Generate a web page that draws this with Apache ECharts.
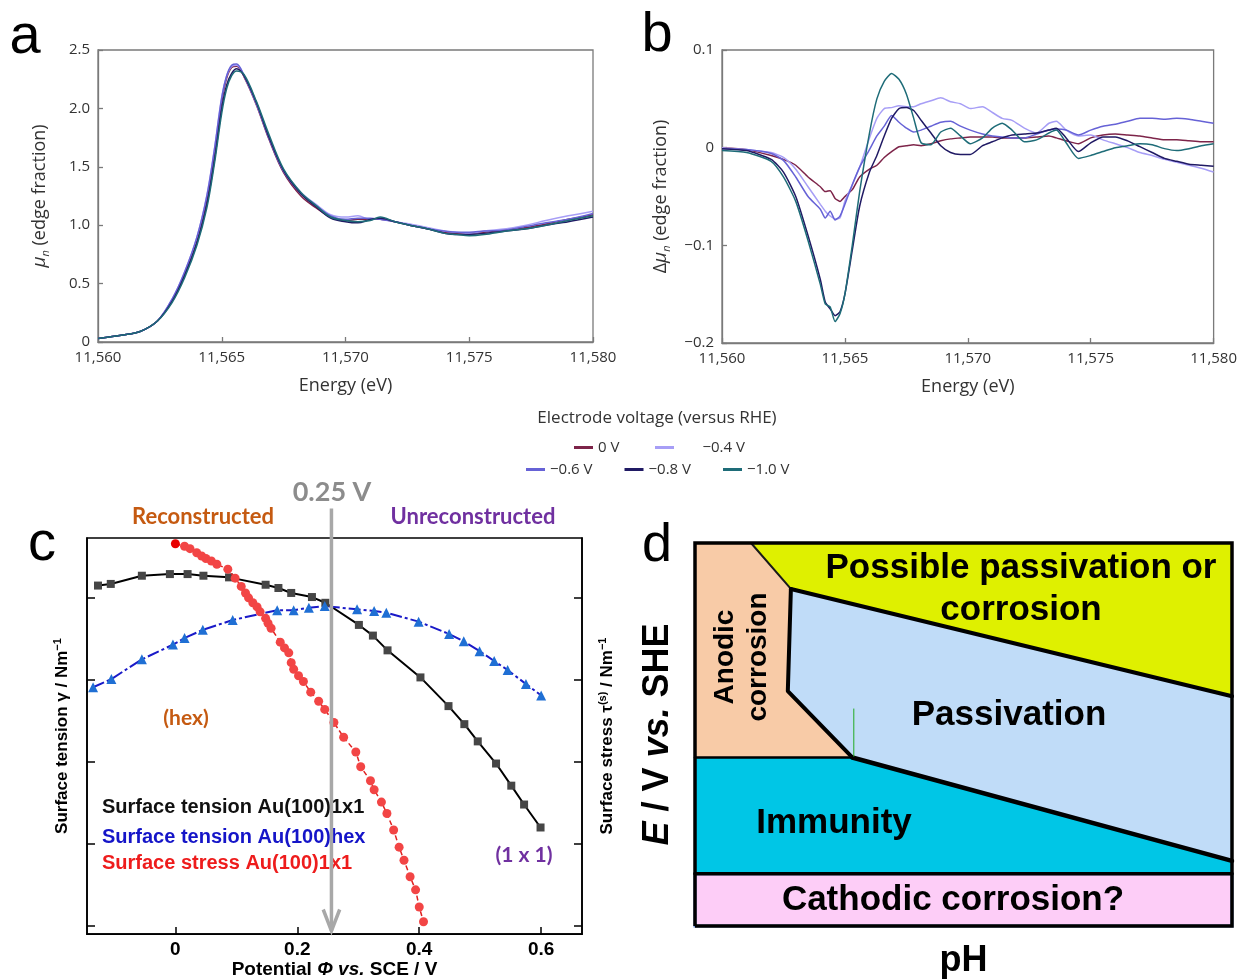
<!DOCTYPE html>
<html>
<head>
<meta charset="utf-8">
<script src="https://cdn.jsdelivr.net/npm/echarts@6/dist/echarts.min.js"></script>
<style>
html,body{margin:0;padding:0;background:#ffffff;}
#chart{width:1240px;height:980px;}
</style>
</head>
<body>
<div id="chart"></div>
<script>
// ---------------- Panel a / b : XANES spectra ----------------
const voltageNames = ['0 V', '−0.4 V', '−0.6 V', '−0.8 V', '−1.0 V'];

const energyA = [11560, 11561, 11561.7, 11562.4, 11563, 11563.5, 11564, 11564.4, 11564.7, 11565, 11565.2, 11565.4, 11565.6, 11565.9, 11566.4, 11566.9, 11567.5, 11568.2, 11568.8, 11569.4, 11570, 11570.5, 11571, 11571.4, 11572, 11572.6, 11573.3, 11574, 11574.5, 11575, 11575.6, 11576.5, 11577.3, 11578.1, 11579, 11580];
const muN_0V  = [0.03,0.06,0.09,0.18,0.36,0.58,0.87,1.22,1.60,2.06,2.26,2.35,2.36,2.27,2.03,1.74,1.45,1.25,1.15,1.07,1.04,1.05,1.05,1.05,1.03,1.00,0.97,0.94,0.93,0.93,0.94,0.96,0.98,1.01,1.05,1.09];
const muN_04V = [0.03,0.06,0.09,0.18,0.37,0.60,0.90,1.26,1.65,2.10,2.28,2.36,2.37,2.28,2.04,1.76,1.47,1.28,1.18,1.09,1.07,1.08,1.05,1.06,1.03,1.01,0.98,0.95,0.94,0.93,0.95,0.97,1.00,1.04,1.08,1.12];
const muN_06V = [0.03,0.06,0.09,0.18,0.37,0.60,0.90,1.25,1.64,2.09,2.28,2.37,2.38,2.28,2.04,1.75,1.46,1.27,1.17,1.08,1.05,1.06,1.06,1.05,1.03,1.00,0.97,0.95,0.94,0.94,0.95,0.96,0.99,1.02,1.05,1.10];
const muN_08V = [0.03,0.06,0.09,0.18,0.35,0.57,0.85,1.18,1.55,2.00,2.20,2.30,2.34,2.28,2.05,1.76,1.47,1.27,1.16,1.06,1.03,1.02,1.05,1.06,1.03,1.00,0.97,0.93,0.92,0.92,0.93,0.95,0.97,1.00,1.03,1.07];
const muN_10V = [0.03,0.06,0.09,0.18,0.34,0.55,0.83,1.15,1.52,1.96,2.17,2.28,2.32,2.29,2.06,1.78,1.48,1.28,1.17,1.07,1.04,1.03,1.04,1.07,1.03,1.00,0.97,0.93,0.92,0.91,0.92,0.95,0.97,1.00,1.04,1.08];

const energyB = [11560, 11561, 11562, 11562.5, 11563, 11563.5, 11564, 11564.2, 11564.4, 11564.6, 11564.8, 11565, 11565.3, 11565.6, 11566, 11566.3, 11566.6, 11566.9, 11567.2, 11567.5, 11567.8, 11568.1, 11568.5, 11568.9, 11569.3, 11569.7, 11570.1, 11570.6, 11571, 11571.4, 11571.8, 11572.3, 11572.8, 11573.3, 11573.6, 11574, 11574.5, 11575, 11575.5, 11576, 11576.5, 11577, 11577.5, 11578, 11578.5, 11579, 11579.5, 11580];
const dMu_0V  = [0.000,-0.002,-0.008,-0.012,-0.018,-0.030,-0.040,-0.045,-0.044,-0.052,-0.055,-0.050,-0.043,-0.030,-0.022,-0.018,-0.010,-0.004,0.001,0.002,0.003,0.002,0.004,0.007,0.009,0.010,0.011,0.011,0.011,0.010,0.010,0.010,0.011,0.012,0.010,0.007,0.004,0.010,0.013,0.014,0.013,0.012,0.010,0.008,0.008,0.007,0.006,0.006];
const dMu_04V = [0.000,-0.002,-0.005,-0.010,-0.022,-0.040,-0.058,-0.065,-0.070,-0.073,-0.072,-0.055,-0.038,-0.020,0.010,0.030,0.040,0.041,0.043,0.042,0.042,0.045,0.048,0.051,0.047,0.045,0.040,0.042,0.036,0.030,0.028,0.020,0.015,0.025,0.027,0.018,0.012,0.013,0.008,0.004,0.000,-0.005,-0.008,-0.012,-0.015,-0.018,-0.021,-0.025];
const dMu_06V = [-0.001,-0.002,-0.006,-0.013,-0.030,-0.050,-0.063,-0.072,-0.065,-0.074,-0.070,-0.058,-0.038,-0.020,-0.002,0.012,0.022,0.033,0.026,0.020,0.016,0.018,0.022,0.026,0.027,0.022,0.018,0.014,0.012,0.011,0.010,0.010,0.014,0.018,0.019,0.018,0.013,0.018,0.022,0.024,0.027,0.030,0.030,0.029,0.030,0.029,0.027,0.025];
const dMu_08V = [-0.001,-0.003,-0.012,-0.025,-0.050,-0.090,-0.135,-0.158,-0.165,-0.172,-0.168,-0.150,-0.105,-0.060,-0.025,-0.008,0.012,0.030,0.040,0.041,0.038,0.028,0.015,0.002,-0.005,-0.007,-0.007,0.002,0.006,0.010,0.013,0.014,0.015,0.018,0.020,0.010,-0.004,0.005,0.011,0.011,0.007,0.001,-0.005,-0.011,-0.014,-0.017,-0.018,-0.019];
const dMu_10V = [-0.003,-0.005,-0.014,-0.030,-0.055,-0.095,-0.140,-0.160,-0.163,-0.178,-0.170,-0.150,-0.100,-0.045,0.015,0.050,0.068,0.076,0.070,0.055,0.030,0.005,0.003,0.016,0.020,0.012,0.004,0.010,0.020,0.025,0.018,0.006,0.008,0.015,0.018,0.005,-0.011,-0.008,-0.004,0.000,0.002,0.004,0.003,-0.001,-0.003,-0.001,0.002,0.004];

// ---------------- Panel c : surface tension / stress ----------------
const potential1x1 = [-0.127,-0.106,-0.055,-0.009,0.020,0.046,0.088,0.148,0.169,0.190,0.224,0.246,0.301,0.324,0.348,0.402,0.448,0.474,0.496,0.526,0.551,0.572,0.599];
const tension1x1   = [4.15,4.17,4.27,4.29,4.29,4.27,4.25,4.16,4.12,4.06,4.01,3.94,3.67,3.54,3.36,3.03,2.68,2.46,2.25,1.98,1.71,1.48,1.20];
const potentialHex = [-0.135,-0.105,-0.055,-0.004,0.015,0.045,0.094,0.167,0.194,0.219,0.245,0.298,0.326,0.346,0.399,0.449,0.473,0.499,0.523,0.545,0.575,0.600];
const tensionHex   = [2.91,3.01,3.25,3.43,3.51,3.61,3.73,3.85,3.85,3.88,3.90,3.86,3.84,3.82,3.71,3.56,3.47,3.35,3.23,3.12,2.95,2.81];
const potentialStress = [0,0.015,0.024,0.035,0.043,0.050,0.059,0.068,0.086,0.098,0.108,0.115,0.120,0.127,0.134,0.139,0.148,0.152,0.157,0.172,0.179,0.186,0.190,0.194,0.202,0.210,0.222,0.235,0.245,0.260,0.276,0.296,0.304,0.320,0.326,0.338,0.347,0.358,0.367,0.375,0.385,0.394,0.400,0.407];
const stress1x1       = [4.66,4.63,4.60,4.55,4.51,4.48,4.45,4.41,4.35,4.24,4.14,4.06,4.00,3.94,3.89,3.83,3.75,3.69,3.63,3.46,3.39,3.33,3.21,3.13,3.05,2.98,2.85,2.74,2.64,2.48,2.30,2.12,1.94,1.77,1.66,1.51,1.37,1.17,0.96,0.80,0.60,0.44,0.23,0.05];
const potentialTicks = [0, 0.2, 0.4, 0.6];
const tensionTicks = [0, 1, 2, 3, 4];
const transitionPotential = 0.256;   // "0.25 V" marker
const transitionTop = 5.09;
const transitionTip = -0.06;

// ---------------- Panel d : Pourbaix-type diagram ----------------
const regionAnodic      = [[0,2],[1.46,2],[2.5,1.64],[2.42,0.84],[4.1,0.32],[0,0.32]];
const regionPossible    = [[1.46,2],[14,2],[14,0.80],[2.5,1.64]];
const regionPassivation = [[2.5,1.64],[14,0.80],[14,-0.49],[4.1,0.32],[2.42,0.84]];
const regionImmunity    = [[0,0.32],[4.1,0.32],[14,-0.49],[14,-0.59],[0,-0.59]];
const regionCathodic    = [[0,-0.59],[14,-0.59],[14,-1],[0,-1]];
const boundaryAnodicTop   = [[1.46,2],[2.5,1.64]];
const boundaryPassTop     = [[2.5,1.64],[14,0.80]];
const boundaryPassLeft    = [[2.5,1.64],[2.42,0.84],[4.1,0.32]];
const boundaryImmLeft     = [[0,0.32],[4.1,0.32]];
const boundaryImmRight    = [[4.1,0.32],[14,-0.49]];
const boundaryCathodic    = [[0,-0.59],[14,-0.59]];
const strayMark           = [[4.14,0.70],[4.14,0.33]];
const frameD              = [[0,-1],[14,-1],[14,2],[0,2],[0,-1]];

// ---------------- styles ----------------
const voltageColors = ['#7d2449', '#a79ef6', '#6662d6', '#201a64', '#1e6c78'];
const regionList = [regionAnodic, regionPossible, regionPassivation, regionImmunity, regionCathodic];
const regionColors = ['#f8cba7', '#dff000', '#c0dcf8', '#00c6e6', '#fdcdf7'];
const sansAB = '"Open Sans", "Liberation Sans", sans-serif';
const arialB = '"Liberation Sans", Arial, sans-serif';
const lato = 'Lato, "Liberation Sans", sans-serif';

const zip = (xs, ys) => xs.map((x, i) => [x, ys[i]]);
const fmtEnergy = v => String(v).replace(/\B(?=(\d{3})+(?!\d))/g, ',');

const seriesA = [muN_0V, muN_04V, muN_06V, muN_08V, muN_10V];
const seriesB = [dMu_0V, dMu_04V, dMu_06V, dMu_08V, dMu_10V];

const chart = echarts.init(document.getElementById('chart'), null, {renderer: 'canvas'});

const abAxisCommon = (gi) => ({
  gridIndex: gi, type: 'value', min: 11560, max: 11580, interval: 5,
  axisLine: {show: true, onZero: false, lineStyle: {color: '#7a7a7a', width: 1.3}},
  axisTick: {show: true, inside: true, length: 5, lineStyle: {color: '#7a7a7a', width: 1.3}},
  axisLabel: {formatter: fmtEnergy, color: '#333', fontSize: 15, fontFamily: sansAB, margin: 8},
  splitLine: {show: false},
  name: 'Energy (eV)', nameLocation: 'middle', nameGap: 35,
  nameTextStyle: {fontSize: 18, color: '#333', fontFamily: sansAB}
});

const series = [];
voltageNames.forEach((n, i) => {
  series.push({
    type: 'line', name: n, xAxisIndex: 0, yAxisIndex: 0,
    data: zip(energyA, seriesA[i]), symbol: 'none', smooth: 0.35,
    lineStyle: {color: voltageColors[i], width: 1.5}, itemStyle: {color: voltageColors[i]}
  });
});
voltageNames.forEach((n, i) => {
  series.push({
    type: 'line', name: n, xAxisIndex: 1, yAxisIndex: 1,
    data: zip(energyB, seriesB[i]), symbol: 'none', smooth: 0.2,
    lineStyle: {color: voltageColors[i], width: 1.5}, itemStyle: {color: voltageColors[i]}
  });
});

// panel c
series.push({
  type: 'line', name: 'Surface tension Au(100)1x1', xAxisIndex: 2, yAxisIndex: 2,
  data: zip(potential1x1, tension1x1), symbol: 'rect', symbolSize: 8,
  itemStyle: {color: '#464646'}, lineStyle: {color: '#000', width: 2}, z: 3
});
series.push({
  type: 'line', name: 'Surface tension Au(100)hex', xAxisIndex: 2, yAxisIndex: 2,
  data: zip(potentialHex, tensionHex), symbol: 'triangle', symbolSize: 10,
  itemStyle: {color: '#1f6fd4'}, lineStyle: {color: '#1a1ac8', width: 2, type: [12, 3, 3, 3]}, z: 3
});
series.push({
  type: 'line', name: 'Surface stress Au(100)1x1', xAxisIndex: 2, yAxisIndex: 2,
  data: zip(potentialStress, stress1x1).map((p, i) => i === 0 ? {value: p, itemStyle: {color: '#e80000'}} : p),
  symbol: 'circle', symbolSize: 9,
  itemStyle: {color: '#f24545'}, lineStyle: {color: '#e02020', width: 1.5, type: [5, 3]}, z: 4
});
series.push({
  type: 'line', xAxisIndex: 2, yAxisIndex: 2, clip: false, silent: true,
  data: [[transitionPotential, transitionTop], [transitionPotential, transitionTip]],
  symbol: 'none', lineStyle: {color: '#a8a8a8', width: 3.5}, z: 10
});
series.push({
  type: 'line', xAxisIndex: 2, yAxisIndex: 2, clip: false, silent: true,
  data: [[transitionPotential - 0.0135, transitionTip + 0.26], [transitionPotential, transitionTip], [transitionPotential + 0.0135, transitionTip + 0.26]],
  symbol: 'none', lineStyle: {color: '#a8a8a8', width: 3.5, join: 'miter'}, z: 10
});

// panel d
series.push({
  type: 'custom', coordinateSystem: 'cartesian2d', xAxisIndex: 3, yAxisIndex: 4, clip: false, silent: true,
  data: regionList.map(r => r[0]),
  renderItem: (params, api) => {
    const poly = regionList[params.dataIndex];
    return {type: 'polygon', shape: {points: poly.map(p => api.coord(p))},
      style: {fill: regionColors[params.dataIndex], stroke: params.dataIndex === 4 ? '#6f94dc' : null, lineWidth: params.dataIndex === 4 ? 3 : 0}};
  }, z: 1
});
const boundary = (data, width, color) => ({
  type: 'line', xAxisIndex: 3, yAxisIndex: 4, data, symbol: 'none', clip: false, silent: true,
  lineStyle: {color: color || '#000', width, cap: 'round', join: 'round'}, z: 5
});
series.push(boundary(boundaryAnodicTop, 2, '#1a1a1a'));
series.push(boundary(boundaryPassTop, 4));
series.push(boundary(boundaryPassLeft, 4));
series.push(boundary(boundaryImmLeft, 2.5));
series.push(boundary(boundaryImmRight, 4.5));
series.push(boundary(boundaryCathodic, 3.5));
series.push(boundary(strayMark, 1, '#22aa22'));
series.push(Object.assign(boundary(frameD, 3.5), {lineStyle: {color: '#000', width: 3.5, join: 'miter'}}));

const txt = (text, x, y, font, fill, extra) => Object.assign({
  type: 'text', x, y, silent: true, z: 100,
  style: {text, font, fill, textAlign: 'center', textVerticalAlign: 'middle', align: 'center', verticalAlign: 'middle'}
}, extra || {});
const ltxt = (text, x, y, font, fill) => ({
  type: 'text', x, y, silent: true, z: 5,
  style: {text, font, fill, textAlign: 'left', align: 'left', textVerticalAlign: 'middle', verticalAlign: 'middle'}
});

const option = {
  backgroundColor: '#ffffff',
  animation: false,
  grid: [
    {left: 98, top: 50, width: 495, height: 292, show: true, borderColor: '#7a7a7a', borderWidth: 1.3, backgroundColor: 'transparent'},
    {left: 722, top: 50, width: 493, height: 293, show: true, borderColor: '#7a7a7a', borderWidth: 1.3, backgroundColor: 'transparent'},
    {left: 87, top: 538, width: 495, height: 398, show: true, borderColor: '#000', borderWidth: 1.6, backgroundColor: 'transparent'},
    {left: 695, top: 543, width: 537, height: 385, show: false}
  ],
  legend: [
    {data: ['0 V'], left: 569, top: 435, icon: 'rect', itemWidth: 19, itemHeight: 3, selectedMode: false,
     textStyle: {fontSize: 15, color: '#333', fontFamily: sansAB}},
    {data: ['−0.4 V'], left: 650, top: 435, icon: 'rect', itemWidth: 19, itemHeight: 3, selectedMode: false,
     formatter: n => '      ' + n, textStyle: {fontSize: 15, color: '#333', fontFamily: sansAB}},
    {data: ['−0.6 V', '−0.8 V', '−1.0 V'], left: 521, top: 457, icon: 'rect', itemWidth: 19, itemHeight: 3, itemGap: 32, selectedMode: false,
     textStyle: {fontSize: 15, color: '#333', fontFamily: sansAB}}
  ],
  xAxis: [
    abAxisCommon(0),
    abAxisCommon(1),
    {gridIndex: 2, type: 'value', min: -0.145, max: 0.667,
     axisLine: {show: true, onZero: false, lineStyle: {color: '#000', width: 1.6}},
     axisTick: {show: true, inside: true, length: 7, customValues: potentialTicks, lineStyle: {color: '#000', width: 1.5}},
     axisLabel: {customValues: potentialTicks, formatter: v => String(v), color: '#000', fontSize: 19, fontWeight: 'bold', fontFamily: arialB, margin: 6},
     splitLine: {show: false},
     name: 'Potential {i|Φ vs.} SCE / V', nameLocation: 'middle', nameGap: 24,
     nameTextStyle: {fontSize: 19, fontWeight: 'bold', color: '#000', fontFamily: arialB,
       rich: {i: {fontSize: 19, fontWeight: 'bold', fontStyle: 'italic', color: '#000', fontFamily: arialB}}}},
    {gridIndex: 3, type: 'value', min: 0, max: 14,
     axisLine: {show: false, onZero: false}, axisTick: {show: false}, axisLabel: {show: false}, splitLine: {show: false},
     name: 'pH', nameLocation: 'middle', nameGap: 17,
     nameTextStyle: {fontSize: 36, fontWeight: 'bold', color: '#000', fontFamily: arialB}}
  ],
  yAxis: [
    {gridIndex: 0, type: 'value', min: 0, max: 2.5, interval: 0.5,
     axisLine: {show: true, onZero: false, lineStyle: {color: '#7a7a7a', width: 1.3}},
     axisTick: {show: true, inside: true, length: 5, lineStyle: {color: '#7a7a7a', width: 1.3}},
     axisLabel: {formatter: v => v === 0 ? '0' : v.toFixed(1), color: '#333', fontSize: 15, fontFamily: sansAB, margin: 8},
     splitLine: {show: false},
     name: '{m|μ}{s|n} (edge fraction)', nameLocation: 'middle', nameGap: 47, nameRotate: 90,
     nameTextStyle: {fontSize: 18, color: '#333', fontFamily: sansAB, lineHeight: 22,
       rich: {m: {fontSize: 19, fontStyle: 'italic', color: '#333', fontFamily: sansAB, lineHeight: 22},
              s: {fontSize: 11, fontStyle: 'italic', color: '#333', fontFamily: sansAB, verticalAlign: 'bottom', lineHeight: 22}}}},
    {gridIndex: 1, type: 'value', min: -0.2, max: 0.1, interval: 0.1,
     axisLine: {show: true, onZero: false, lineStyle: {color: '#7a7a7a', width: 1.3}},
     axisTick: {show: true, inside: true, length: 5, lineStyle: {color: '#7a7a7a', width: 1.3}},
     axisLabel: {formatter: v => Math.abs(v) < 1e-9 ? '0' : (v < 0 ? '−' : '') + Math.abs(v).toFixed(1), color: '#333', fontSize: 15, fontFamily: sansAB, margin: 8},
     splitLine: {show: false},
     name: 'Δ{m|μ}{s|n} (edge fraction)', nameLocation: 'middle', nameGap: 50, nameRotate: 90,
     nameTextStyle: {fontSize: 18, color: '#333', fontFamily: sansAB, lineHeight: 22,
       rich: {m: {fontSize: 19, fontStyle: 'italic', color: '#333', fontFamily: sansAB, lineHeight: 22},
              s: {fontSize: 11, fontStyle: 'italic', color: '#333', fontFamily: sansAB, verticalAlign: 'bottom', lineHeight: 22}}}},
    {gridIndex: 2, type: 'value', min: -0.1, max: 4.73, position: 'left',
     axisLine: {show: true, onZero: false, lineStyle: {color: '#000', width: 1.6}},
     axisTick: {show: true, inside: true, length: 8, customValues: tensionTicks, lineStyle: {color: '#000', width: 1.5}},
     axisLabel: {show: false}, splitLine: {show: false},
     name: 'Surface tension γ / Nm{p|−1}', nameLocation: 'middle', nameGap: 15, nameRotate: 90,
     nameTextStyle: {fontSize: 17, fontWeight: 'bold', color: '#000', fontFamily: arialB, lineHeight: 20,
       rich: {p: {fontSize: 11, fontWeight: 'bold', color: '#000', fontFamily: arialB, verticalAlign: 'top', lineHeight: 20}}}},
    {gridIndex: 2, type: 'value', min: -0.1, max: 4.73, position: 'right',
     axisLine: {show: true, onZero: false, lineStyle: {color: '#000', width: 1.6}},
     axisTick: {show: true, inside: true, length: 8, customValues: tensionTicks, lineStyle: {color: '#000', width: 1.5}},
     axisLabel: {show: false}, splitLine: {show: false},
     name: 'Surface stress τ{p|(s)} / Nm{p|−1}', nameLocation: 'middle', nameGap: 15, nameRotate: 90,
     nameTextStyle: {fontSize: 17, fontWeight: 'bold', color: '#000', fontFamily: arialB, lineHeight: 20,
       rich: {p: {fontSize: 11, fontWeight: 'bold', color: '#000', fontFamily: arialB, verticalAlign: 'top', lineHeight: 20}}}},
    {gridIndex: 3, type: 'value', min: -1, max: 2,
     axisLine: {show: false, onZero: false}, axisTick: {show: false}, axisLabel: {show: false}, splitLine: {show: false},
     name: '{i|E} / V {i|vs.} SHE', nameLocation: 'middle', nameGap: 19, nameRotate: 90,
     nameTextStyle: {fontSize: 36, fontWeight: 'bold', color: '#000', fontFamily: arialB,
       rich: {i: {fontSize: 36, fontWeight: 'bold', fontStyle: 'italic', color: '#000', fontFamily: arialB}}}}
  ],
  series,
  graphic: [
    txt('a', 25, 38, '56px "Liberation Sans", Arial, sans-serif', '#000'),
    txt('b', 657, 36, '56px "Liberation Sans", Arial, sans-serif', '#000'),
    txt('c', 42, 545, '56px "Liberation Sans", Arial, sans-serif', '#000'),
    txt('d', 657, 546, '54px "Liberation Sans", Arial, sans-serif', '#000'),
    txt('Electrode voltage (versus RHE)', 657, 418, '17px ' + sansAB, '#333'),
    txt('0.25 V', 332, 492, 'bold 27px ' + lato, '#8c8c8c'),
    txt('Reconstructed', 203, 517, 'bold 22px ' + lato, '#c55a11'),
    txt('Unreconstructed', 473, 517, 'bold 22px ' + lato, '#7030a0'),
    txt('(hex)', 186, 718, 'bold 21px ' + lato, '#c55a11'),
    txt('(1 x 1)', 524, 855, 'bold 21px ' + lato, '#7030a0'),
    ltxt('Surface tension Au(100)1x1', 102, 807, 'bold 20px ' + arialB, '#111'),
    ltxt('Surface tension Au(100)hex', 102, 837, 'bold 20px ' + arialB, '#1515c8'),
    ltxt('Surface stress Au(100)1x1', 102, 863, 'bold 20px ' + arialB, '#ee1c1c'),
    txt('Possible passivation or', 1021, 568, 'bold 35px ' + arialB, '#000'),
    txt('corrosion', 1021, 610, 'bold 35px ' + arialB, '#000'),
    txt('Anodic', 725, 657, 'bold 28px ' + arialB, '#000', {rotation: Math.PI / 2}),
    txt('corrosion', 758, 657, 'bold 28px ' + arialB, '#000', {rotation: Math.PI / 2}),
    txt('Passivation', 1009, 715, 'bold 35px ' + arialB, '#000'),
    txt('Immunity', 834, 823, 'bold 35px ' + arialB, '#000'),
    txt('Cathodic corrosion?', 953, 900, 'bold 35px ' + arialB, '#000')
  ]
};

chart.setOption(option);
</script>
</body>
</html>
